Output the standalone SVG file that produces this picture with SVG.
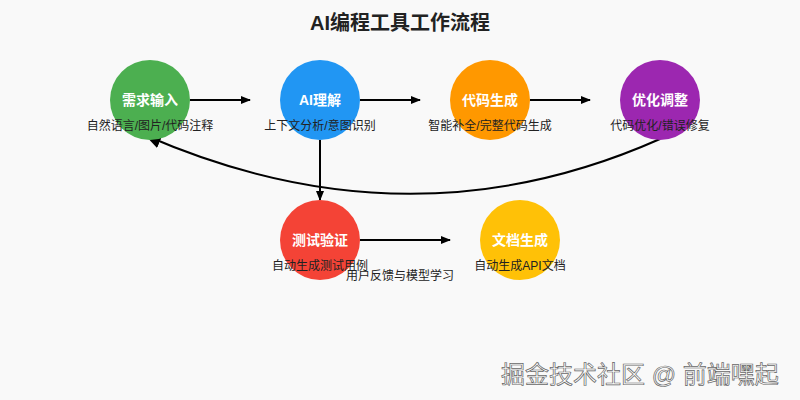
<svg xmlns="http://www.w3.org/2000/svg" width="800" height="400" viewBox="0 0 800 400">
<style>
text{font-family:"Liberation Sans","Noto Sans CJK SC",sans-serif;}
.t{font-size:20px;font-weight:bold;fill:#222;text-anchor:middle;}
.n{font-size:14px;font-weight:bold;fill:#fff;text-anchor:middle;}
.d{font-size:12px;fill:#222;text-anchor:middle;}
.c{stroke:#000;stroke-width:2;fill:none;marker-end:url(#ah);}
.w{font-size:24px;fill:#fff;stroke:#666;stroke-width:0.7;}
</style>
<defs>
<marker id="ah" markerWidth="10" markerHeight="8" refX="9" refY="4" orient="auto" markerUnits="userSpaceOnUse">
<path d="M0,0 L10,4 L0,8 Z" fill="#000"/>
</marker>
<marker id="ah2" markerWidth="16" markerHeight="14" refX="14" refY="7" orient="auto" markerUnits="userSpaceOnUse">
<path d="M0,0 L16,7 L0,14 Z" fill="#000"/>
</marker>
</defs>
<rect width="800" height="400" fill="#f9f9f9"/>
<text class="t" x="400" y="30">AI编程工具工作流程</text>
<g id="connectors">
<line class="c" x1="190" y1="100" x2="250" y2="100"/>
<line class="c" x1="360" y1="100" x2="420" y2="100"/>
<line class="c" x1="530" y1="100" x2="590" y2="100"/>
<line class="c" x1="320" y1="140" x2="320" y2="200"/>
<line class="c" x1="360" y1="240" x2="450" y2="240"/>
<path d="M660,139 Q410,250 147,136" stroke="#000" stroke-width="2" fill="none" marker-end="url(#ah2)"/>
<text class="d" x="400" y="280">用户反馈与模型学习</text>
</g>
<g id="n1"><circle cx="150" cy="100" r="40" fill="#4CAF50"/><text class="n" x="150" y="105">需求输入</text><text class="d" x="150" y="130">自然语言/图片/代码注释</text></g>
<g id="n2"><circle cx="320" cy="100" r="40" fill="#2196F3"/><text class="n" x="320" y="105">AI理解</text><text class="d" x="320" y="130">上下文分析/意图识别</text></g>
<g id="n3"><circle cx="490" cy="100" r="40" fill="#FF9800"/><text class="n" x="490" y="105">代码生成</text><text class="d" x="490" y="130">智能补全/完整代码生成</text></g>
<g id="n4"><circle cx="660" cy="100" r="40" fill="#9C27B0"/><text class="n" x="660" y="105">优化调整</text><text class="d" x="660" y="130">代码优化/错误修复</text></g>
<g id="n5"><circle cx="320" cy="240" r="40" fill="#F44336"/><text class="n" x="320" y="245">测试验证</text><text class="d" x="320" y="270">自动生成测试用例</text></g>
<g id="n6"><circle cx="520" cy="240" r="40" fill="#FFC107"/><text class="n" x="520" y="245">文档生成</text><text class="d" x="520" y="270">自动生成API文档</text></g>
<text class="w" x="501" y="383">掘金技术社区 @ 前端嘿起</text>
</svg>
